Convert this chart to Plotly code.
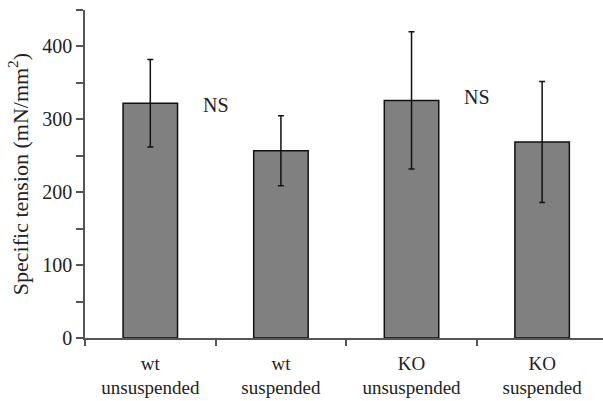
import plotly.graph_objects as go

categories = ["wt<br>unsuspended", "wt<br>suspended", "KO<br>unsuspended", "KO<br>suspended"]
values = [322, 257, 326, 269]
errors = [60, 48, 94, 83]
ns_x = [0.5, 2.5]
ns_y = [320, 330]
ns_text = ["NS", "NS"]

FONT = "Liberation Serif"
TXT = "#222222"

fig = go.Figure()
fig.add_trace(go.Bar(
    x=categories, y=values,
    width=0.417,
    marker=dict(color="#808080", line=dict(color="#111111", width=1.5)),
    error_y=dict(type="data", array=errors, visible=True, color="#111111",
                 thickness=1.5, width=3),
    showlegend=False,
))

for x, y, t in zip(ns_x, ns_y, ns_text):
    fig.add_annotation(x=x, y=y, text=t, showarrow=False, xref="x", yref="y",
                       font=dict(family=FONT, size=20, color=TXT))

fig.update_layout(
    width=603, height=401,
    margin=dict(l=85, r=0, t=10, b=63),
    paper_bgcolor="white", plot_bgcolor="white",
    font=dict(family=FONT, size=19, color=TXT),
    bargap=0.583,
)
fig.update_xaxes(
    type="category", range=[-0.5, 3.466], automargin=False,
    showline=True, linecolor="#555555", linewidth=1.5,
    ticks="outside", tickson="boundaries", ticklen=6, tickcolor="#555555", tickwidth=1.5,
    ticklabelstandoff=7,
    showgrid=False, zeroline=False,
    tickfont=dict(family=FONT, size=19, color=TXT),
)
fig.update_yaxes(
    range=[0, 450], tickvals=[0, 100, 200, 300, 400], automargin=False,
    showline=True, linecolor="#555555", linewidth=1.5,
    ticks="outside", ticklen=7, tickcolor="#555555", tickwidth=1.5,
    minor=dict(tickvals=[50, 150, 250, 350, 450], ticks="outside", ticklen=7,
               tickcolor="#555555", tickwidth=1.5, showgrid=False),
    showgrid=False, zeroline=False,
    tickfont=dict(family=FONT, size=20, color=TXT),
    title=dict(text="Specific tension (mN/mm<sup>2</sup>)", font=dict(family=FONT, size=22, color=TXT),
               standoff=8),
)

fig.write_html("out.html", config={"displayModeBar": False},
               post_script="document.body.style.margin='0';document.body.style.overflow='hidden';")
